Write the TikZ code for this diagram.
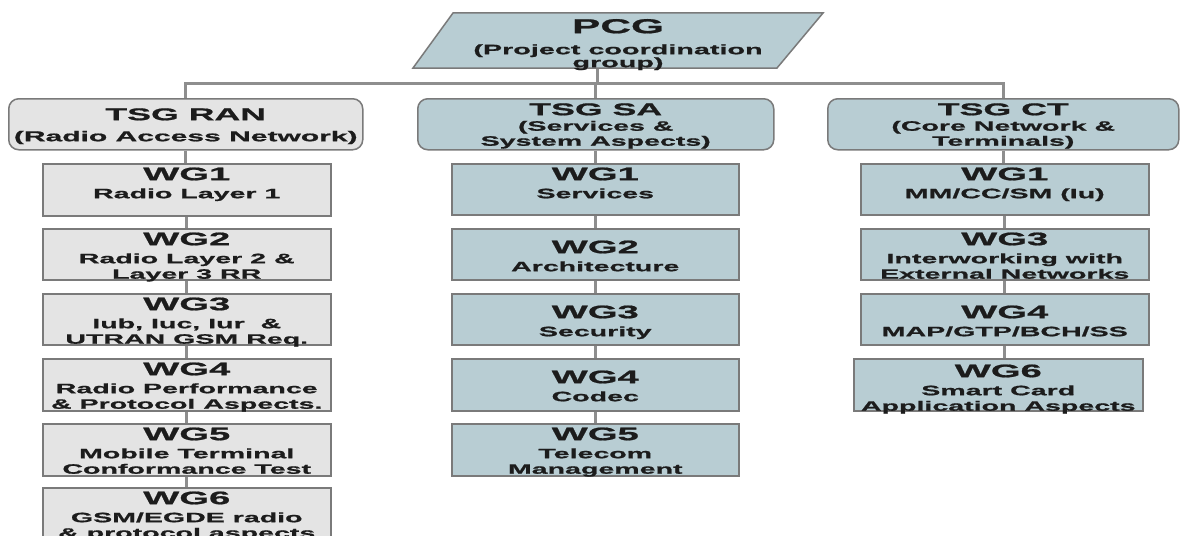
\documentclass[tikz,border=0pt]{standalone}
\usepackage{fontspec}
\newfontfamily\chartfont[FakeStretch=2.1, FakeBold=1]{Liberation Sans}
\usetikzlibrary{backgrounds}

\definecolor{boxblue}{HTML}{B8CDD3}
\definecolor{boxgrey}{HTML}{E4E4E4}
\definecolor{edgegrey}{HTML}{7A7A7A}
\definecolor{linkgrey}{HTML}{8E8E8E}
\definecolor{inkdark}{HTML}{1C1C1C}

% heading line of a box: size, strut height (distance from top to baseline), text
\newcommand\headline[3]{{\fontsize{#1}{#1}\selectfont\rule{0pt}{#2}#3}}
\newcommand\wgtitle[1]{\headline{18.2}{17pt}{#1}}
\newcommand\tsgtitle[1]{\headline{17}{17pt}{#1}}

\tikzset{
  frame/.style={draw=edgegrey, line width=1.5pt, inner sep=0pt, anchor=north west},
  wgbox/.style={frame, rectangle},
  tsgbox/.style={frame, rounded corners=10pt},
  bluefill/.style={fill=boxblue},
  greyfill/.style={fill=boxgrey},
  boxtext/.style={anchor=north, inner sep=0pt, align=center, text=inkdark,
    font=\chartfont\bfseries\fontsize{13.6}{14}\selectfont},
  pcgframe/.style={fill=boxblue, draw=edgegrey, line width=1.5pt},
  link/.style={draw=linkgrey, line width=3pt},
}

\begin{document}
\begin{tikzpicture}[x=1pt, y=-1pt]
\clip (0,0) rectangle (1182,535);
\begin{scope}[on background layer]
  \fill[white] (0,0) rectangle (1182,535);
\end{scope}

% project coordination group: a parallelogram with its text
\path[pcgframe] (453,13) -- (823,13) -- (777,68) -- (413,68) -- cycle;
\coordinate (pcgfoot) at (597,68);
\node[boxtext, font=\chartfont\bfseries\fontsize{13.7}{13}\selectfont] (pcg) at (618,13)
  {\headline{20.2}{20pt}{PCG}\\[8pt] (Project coordination\\ group)};

% technical specification groups
\node[tsgbox, greyfill, minimum width=354pt, minimum height=51pt] (ranT) at (8,98) {};
\node[boxtext, yshift=-5pt] (ranTt) at (ranT.north)
  {\tsgtitle{TSG RAN}\\[7pt] \fontsize{14.3}{14}\selectfont (Radio Access Network)};
\node[tsgbox, bluefill, minimum width=356pt, minimum height=51pt] (saT) at (417,98) {};
\node[boxtext] (saTt) at (saT.north)
  {\tsgtitle{TSG SA}\\[1.5pt] (Services \&\\[1pt] System Aspects)};
\node[tsgbox, bluefill, minimum width=351pt, minimum height=51pt] (ctT) at (827,98) {};
\node[boxtext] (ctTt) at (ctT.north)
  {\tsgtitle{TSG CT}\\[1.5pt] (Core Network \&\\[1pt] Terminals)};

% RAN working groups
\node[wgbox, greyfill, minimum width=288pt, minimum height=52pt] (ranW1) at (42,163) {};
\node[boxtext] (ranW1t) at (ranW1.north) {\wgtitle{WG1}\\[4pt] Radio Layer 1};
\node[wgbox, greyfill, minimum width=288pt, minimum height=51pt] (ranW2) at (42,228) {};
\node[boxtext] (ranW2t) at (ranW2.north) {\wgtitle{WG2}\\[4pt] Radio Layer 2 \&\\[1.5pt] Layer 3 RR};
\node[wgbox, greyfill, minimum width=288pt, minimum height=51pt] (ranW3) at (42,293) {};
\node[boxtext] (ranW3t) at (ranW3.north) {\wgtitle{WG3}\\[4pt] Iub, Iuc, Iur \ \&\\[1.5pt] UTRAN GSM Req.};
\node[wgbox, greyfill, minimum width=288pt, minimum height=52pt] (ranW4) at (42,358) {};
\node[boxtext] (ranW4t) at (ranW4.north) {\wgtitle{WG4}\\[4pt] Radio Performance\\[1.5pt] \& Protocol Aspects.};
\node[wgbox, greyfill, minimum width=288pt, minimum height=52pt] (ranW5) at (42,423) {};
\node[boxtext] (ranW5t) at (ranW5.north) {\wgtitle{WG5}\\[4pt] Mobile Terminal\\[1.5pt] Conformance Test};
\node[wgbox, greyfill, minimum width=288pt, minimum height=60pt] (ranW6) at (42,487) {};
\node[boxtext] (ranW6t) at (ranW6.north) {\wgtitle{WG6}\\[4pt] GSM/EGDE radio\\[1.5pt] \& protocol aspects};

% SA working groups
\node[wgbox, bluefill, minimum width=287pt, minimum height=51pt] (saW1) at (451,163) {};
\node[boxtext] (saW1t) at (saW1.north) {\wgtitle{WG1}\\[4pt] Services};
\node[wgbox, bluefill, minimum width=287pt, minimum height=51pt] (saW2) at (451,228) {};
\node[boxtext, yshift=-8pt] (saW2t) at (saW2.north) {\wgtitle{WG2}\\[4pt] Architecture};
\node[wgbox, bluefill, minimum width=287pt, minimum height=51pt] (saW3) at (451,293) {};
\node[boxtext, yshift=-8pt] (saW3t) at (saW3.north) {\wgtitle{WG3}\\[4pt] Security};
\node[wgbox, bluefill, minimum width=287pt, minimum height=52pt] (saW4) at (451,358) {};
\node[boxtext, yshift=-8pt] (saW4t) at (saW4.north) {\wgtitle{WG4}\\[4pt] Codec};
\node[wgbox, bluefill, minimum width=287pt, minimum height=52pt] (saW5) at (451,423) {};
\node[boxtext] (saW5t) at (saW5.north) {\wgtitle{WG5}\\[4pt] Telecom\\[1.5pt] Management};

% CT working groups
\node[wgbox, bluefill, minimum width=288pt, minimum height=51pt] (ctW1) at (860,163) {};
\node[boxtext] (ctW1t) at (ctW1.north) {\wgtitle{WG1}\\[4pt] MM/CC/SM (Iu)};
\node[wgbox, bluefill, minimum width=288pt, minimum height=51pt] (ctW3) at (860,228) {};
\node[boxtext] (ctW3t) at (ctW3.north) {\wgtitle{WG3}\\[4pt] Interworking with\\[1.5pt] External Networks};
\node[wgbox, bluefill, minimum width=288pt, minimum height=51pt] (ctW4) at (860,293) {};
\node[boxtext, yshift=-8pt] (ctW4t) at (ctW4.north) {\wgtitle{WG4}\\[4pt] MAP/GTP/BCH/SS};
\node[wgbox, bluefill, minimum width=289pt, minimum height=52pt] (ctW6) at (853,358) {};
\node[boxtext, yshift=-2pt] (ctW6t) at (ctW6.north) {\wgtitle{WG6}\\[4pt] Smart Card\\[1.5pt] Application Aspects};

% connectors behind the boxes
\begin{scope}[on background layer]
  \coordinate (bus) at (0,83);
  \draw[link] (pcgfoot) -- (pcgfoot |- bus);
  \draw[link] (ranT.north) -- (ranT.north |- bus) -- (ctT.north |- bus) -- (ctT.north);
  \draw[link] (saT.north) -- (saT.north |- bus);
  \foreach \a/\b in {ranT/ranW1, ranW1/ranW2, ranW2/ranW3, ranW3/ranW4, ranW4/ranW5,
      ranW5/ranW6, saT/saW1, saW1/saW2, saW2/saW3, saW3/saW4, saW4/saW5,
      ctT/ctW1, ctW1/ctW3, ctW3/ctW4, ctW4/ctW6}
    \draw[link] (\a.south) -- (\a.south |- \b.north);
\end{scope}
\end{tikzpicture}
\end{document}
